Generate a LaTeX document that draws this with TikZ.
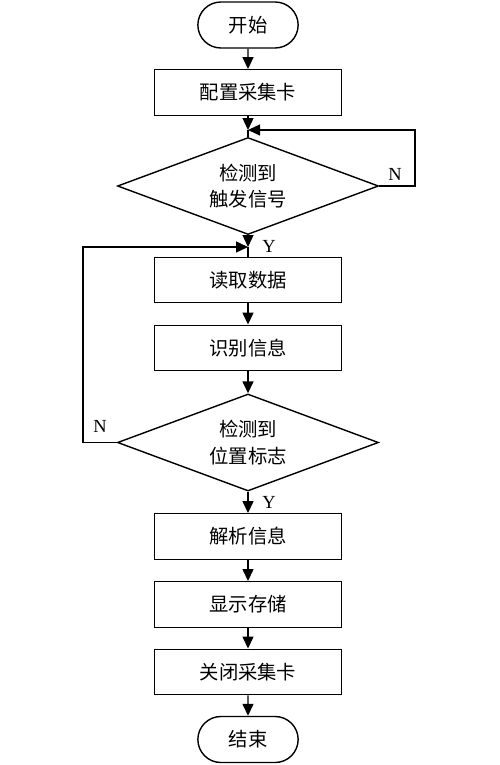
\documentclass[tikz,border=0pt]{standalone}
\usepackage{fontspec}
\setmainfont{Liberation Serif}
\newfontfamily\cjk{Noto Sans CJK SC}
\usetikzlibrary{shapes}
\usetikzlibrary{positioning}
\usetikzlibrary{arrows.meta}
\tikzset{
    termnode/.style = {rounded rectangle, draw=black, line width=0.8pt, minimum width=2.24cm, minimum height=0.92cm, align=center, font=\cjk\fontsize{11}{14}\selectfont},
    procnode/.style = {rectangle, draw=black, line width=0.8pt, minimum width=3.74cm, minimum height=0.91cm, align=center, font=\cjk\fontsize{11}{14}\selectfont},
    decnode/.style = {diamond, draw=black, line width=0.8pt, aspect=2.7, inner sep=0pt, minimum width=5.22cm, minimum height=1.94cm, align=center, font=\cjk\fontsize{11}{15}\selectfont},
    yn/.style = {font=\fontsize{10.5}{12}\selectfont},
    edgea/.style = {-{Triangle[length=2.4mm,width=2.2mm]}, line width=0.8pt, black},
    edgel/.style = {-, line width=0.8pt, black}
}
\begin{document}
\begin{tikzpicture}
\path[use as bounding box] (0,0) rectangle (10,-15.3);
\node[termnode] at (4.96,-0.50) (start) {开始};
\node[procnode] at (4.96,-1.85) (cfg) {配置采集卡};
\coordinate (j1) at (4.96,-2.60);
\node[decnode] at (4.96,-3.72) (trig) {检测到\\触发信号};
\coordinate (nr) at (8.30,-2.60);
\coordinate (j2) at (4.96,-4.94);
\node[procnode] at (4.96,-5.60) (read) {读取数据};
\node[procnode] at (4.96,-6.96) (ident) {识别信息};
\node[decnode] at (4.96,-8.85) (pos) {检测到\\位置标志};
\coordinate (nl) at (1.66,-4.94);
\node[procnode] at (4.96,-10.73) (parse) {解析信息};
\node[procnode] at (4.96,-12.09) (show) {显示存储};
\node[procnode] at (4.96,-13.44) (close) {关闭采集卡};
\node[termnode] at (4.96,-14.79) (stop) {结束};
%
\draw[edgea] (start) edge (cfg);
\draw[edgea] (cfg) edge (j1);
\draw[edgel] (j1) edge (trig);
\draw[edgea] (trig.east) -| (nr) -- (j1);
\draw[edgea] (trig) edge (j2);
\draw[edgel] (j2) edge (read);
\draw[edgea] (read) edge (ident);
\draw[edgea] (ident) edge (pos);
\draw[edgea] (pos.west) -| (nl) -- (j2);
\draw[edgea] (pos) edge (parse);
\draw[edgea] (parse) edge (show);
\draw[edgea] (show) edge (close);
\draw[edgea] (close) edge (stop);
%
\node[yn] at (7.90,-3.48) (n1) {N};
\node[yn] at (5.38,-4.92) (y1) {Y};
\node[yn] at (2.00,-8.52) (n2) {N};
\node[yn] at (5.38,-10.04) (y2) {Y};
\end{tikzpicture}
\end{document}
